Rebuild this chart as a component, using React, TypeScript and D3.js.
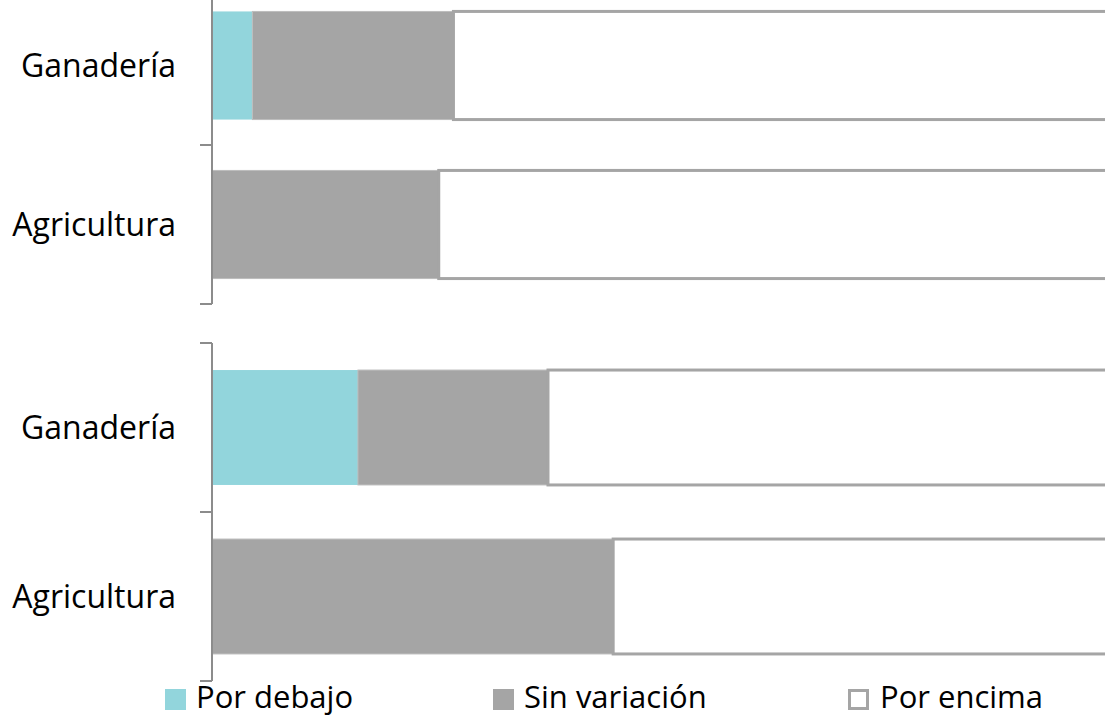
import React, { useEffect, useRef } from 'react';
import * as d3 from 'd3';

// Categories (top to bottom within each panel)
const categories = ['Ganadería', 'Agricultura'];
const seriesNames = ['Por debajo', 'Sin variación', 'Por encima'];
const seriesColors = ['#92D5DC', '#A5A5A5', '#FFFFFF'];

// Percent shares, one row per category
const topPanelValues = [
  [4.4, 21.9, 73.7],
  [0, 24.7, 75.3],
];
const bottomPanelValues = [
  [15.9, 20.7, 63.4],
  [0, 43.7, 56.3],
];

const WIDTH = 1105;
const HEIGHT = 718;

const App: React.FC = () => {
  const svgRef = useRef<SVGSVGElement>(null);

  useEffect(() => {
    if (!svgRef.current) return;
    const svg = d3.select(svgRef.current);
    svg.selectAll('*').remove();

    const axisX = 212;
    const xScale = d3.scaleLinear().domain([0, 100]).range([axisX, 1130]);
    const font = "'Open Sans', sans-serif";

    const panels = [
      { values: topPanelValues, range: [-14, 304] as [number, number] },
      { values: bottomPanelValues, range: [343, 681] as [number, number] },
    ];

    panels.forEach(panel => {
      const yScale = d3.scaleBand<string>()
        .domain(categories)
        .range(panel.range)
        .paddingInner(0.32)
        .paddingOuter(0.16);

      const rows = categories.map((c, i) => ({
        cat: c,
        a: panel.values[i][0],
        b: panel.values[i][1],
        c: panel.values[i][2],
      }));
      const stacked = d3.stack<any>().keys(['a', 'b', 'c'])(rows);

      const g = svg.append('g');

      stacked.forEach((layer, li) => {
        g.selectAll(null)
          .data(layer)
          .enter()
          .append('rect')
          .attr('x', d => xScale(d[0]))
          .attr('y', d => yScale(d.data.cat) || 0)
          .attr('width', d => Math.max(0, xScale(d[1]) - xScale(d[0])))
          .attr('height', yScale.bandwidth())
          .attr('fill', seriesColors[li])
          .attr('stroke', li === 2 ? '#A5A5A5' : li === 1 ? '#BDBDBD' : 'none')
          .attr('stroke-width', li === 2 ? 3 : 1)
          .style('display', d => (d[1] - d[0] > 0 ? null : 'none'));
      });

      // Category axis
      const [r0, r1] = panel.range;
      g.append('line')
        .attr('x1', axisX).attr('x2', axisX)
        .attr('y1', r0).attr('y2', r1)
        .attr('stroke', '#8C8C8C').attr('stroke-width', 2);

      const step = yScale.step();
      const ticks = d3.range(categories.length + 1).map(i => r0 + i * step);
      g.selectAll(null)
        .data(ticks)
        .enter()
        .append('line')
        .attr('x1', axisX - 12).attr('x2', axisX)
        .attr('y1', d => d).attr('y2', d => d)
        .attr('stroke', '#8C8C8C').attr('stroke-width', 2);

      g.selectAll(null)
        .data(categories)
        .enter()
        .append('text')
        .attr('x', 176)
        .attr('y', d => (yScale(d) || 0) + yScale.bandwidth() / 2)
        .attr('dy', '0.35em')
        .attr('text-anchor', 'end')
        .style('font-family', font)
        .style('font-size', '32px')
        .style('fill', '#000')
        .text(d => d);
    });

    // Legend
    const legendX = [165, 493, 848];
    const legend = svg.append('g');
    seriesNames.forEach((name, i) => {
      legend.append('rect')
        .attr('x', legendX[i] + (i === 2 ? 1.5 : 0))
        .attr('y', 689 + (i === 2 ? 1.5 : 0))
        .attr('width', i === 2 ? 18 : 21)
        .attr('height', i === 2 ? 18 : 21)
        .attr('fill', seriesColors[i])
        .attr('stroke', i === 2 ? '#A5A5A5' : 'none')
        .attr('stroke-width', 3);
      legend.append('text')
        .attr('x', legendX[i] + (i === 2 ? 32 : 31))
        .attr('y', 708)
        .style('font-family', font)
        .style('font-size', '31px')
        .style('fill', '#000')
        .text(name);
    });
  }, []);

  return (
    <svg
      ref={svgRef}
      width={WIDTH}
      height={HEIGHT}
      style={{ position: 'absolute', left: 0, top: 0, background: '#fff' }}
    />
  );
};

export default App;
